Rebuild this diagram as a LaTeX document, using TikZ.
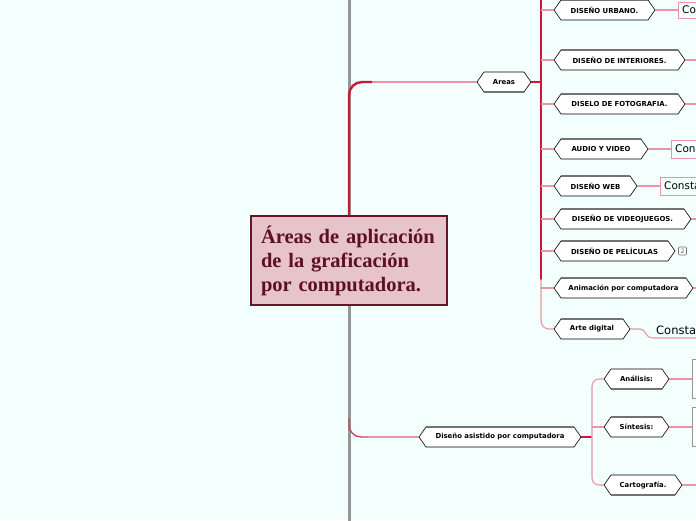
\documentclass[tikz,border=0pt]{standalone}
\usepackage{fontspec}
\setmainfont{Liberation Serif}
\newfontfamily\verd{DejaVu Sans}
\usetikzlibrary{calc}
\definecolor{bgc}{RGB}{242,255,252}
\definecolor{trunk}{RGB}{150,150,150}
\definecolor{redl}{RGB}{200,25,55}
\definecolor{pinkl}{RGB}{232,150,165}
\definecolor{cfill}{RGB}{230,196,201}
\definecolor{cdraw}{RGB}{105,20,38}
\definecolor{ctext}{RGB}{95,15,35}
\definecolor{edgegray}{RGB}{115,115,115}
\tikzset{
  hexlbl/.style={inner sep=0pt,minimum height=20pt,font=\verd\bfseries\fontsize{6.9}{8}\selectfont,text=black},
  hexpoly/.style={fill=white,draw=black,line width=0.6pt},
  hexedge/.style={draw=edgegray,line width=1.8pt},
  conn/.style={draw=pinkl,line width=1.1pt},
  redconn/.style={draw=redl,line width=1.8pt},
  txtbox/.style={draw=pinkl,line width=0.9pt,fill=bgc},
  boxtext/.style={anchor=west,inner sep=0pt,font=\verd\fontsize{10.5}{12}\selectfont,text=black},
}
\newcommand\hexnode[6]{%
  \filldraw[hexpoly] (#2,#4) -- (#2+7,#4-10) -- (#3-7,#4-10) -- (#3,#4) -- (#3-7,#4+10) -- (#2+7,#4+10) -- cycle;
  \draw[hexedge] (#2+7,#4#6) -- (#3-7,#4#6);
  \node[hexlbl,minimum width=#3-#2] (#1) at ({(#2+#3)/2},#4) {#5};
}
\begin{document}
\begin{tikzpicture}[x=1pt,y=-1pt]
\useasboundingbox (0,0) rectangle (696,520);
\clip (0,0) rectangle (696,520);
\fill[bgc] (0,0) rectangle (696,520);

% trunk
\coordinate (ttop) at (349,-2);
\coordinate (tbot) at (349,522);
\draw[draw=trunk,line width=3pt] (ttop) -- (tbot);

% central node
\node[draw=cdraw,fill=cfill,line width=1.2pt,minimum width=196pt,minimum height=89pt,
      text width=176pt,align=left,inner xsep=10pt,text=ctext,
      font=\bfseries\fontsize{20.5}{24}\selectfont] (root) at (349,260.5)
      {Áreas de aplicación\\de la graficación\\por computadora.};

% Areas branch
\hexnode{areas}{477}{531}{82}{Areas}{+10}
\coordinate (ac) at (372,82);
\draw[draw=redl,line width=2.4pt,rounded corners=13pt] (root.north) -- (349,82) -- (ac);
\draw[conn] (ac) -- (areas.west);

% children of Areas
\hexnode{urb}{554}{655}{10}{DISEÑO URBANO.}{-10}
\hexnode{intr}{554}{685}{60}{DISEÑO DE INTERIORES.}{-10}
\hexnode{foto}{554}{685}{104}{DISELO DE FOTOGRAFIA.}{-10}
\hexnode{audio}{554}{648}{149}{AUDIO Y VIDEO}{-10}
\hexnode{web}{554}{637}{186}{DISEÑO WEB}{-10}
\hexnode{vid}{554}{691}{219}{DISEÑO DE VIDEOJUEGOS.}{-10}
\hexnode{pel}{554}{675}{251}{DISEÑO DE PELÍCULAS}{-10}
\hexnode{anim}{554}{693}{288}{Animación por computadora}{-10}
\hexnode{arte}{554}{630}{329}{Arte digital}{-10}

\coordinate (bar) at (541,82);
\draw[redconn] (areas.east) -- (bar);
\draw[draw=redl,line width=1.5pt] (541,-2) -- (541,280);
\draw[conn,rounded corners=8pt] (541,279) -- (541,329) -- (arte.west);
\foreach \n/\y in {urb/10,intr/60,foto/104,audio/149,web/186,vid/219,pel/251,anim/288}{
  \draw[conn] (541,\y) -- (\n.west);
}

% text boxes / continuations
\draw[txtbox] (678,2) rectangle (740,18);
\node[boxtext] (tUrb) at (682,10) {Co};
\draw[conn] (urb.east) -- (678,10);

\coordinate (eIntr) at (700,60);
\draw[conn] (intr.east) -- (eIntr);
\coordinate (eFoto) at (700,104);
\draw[conn] (foto.east) -- (eFoto);

\draw[txtbox] (671,140) rectangle (740,158);
\node[boxtext] (tAudio) at (675,149) {Cons};
\draw[conn] (audio.east) -- (671,149);

\draw[txtbox] (660,177) rectangle (740,195);
\node[boxtext] (tWeb) at (664,186) {Consta};
\draw[conn] (web.east) -- (660,186);

\coordinate (eVid) at (700,219);
\draw[conn] (vid.east) -- (eVid);
\coordinate (eAnim) at (700,288);
\draw[conn] (anim.east) -- (eAnim);

\node[draw=edgegray,fill=white,rounded corners=1pt,line width=0.6pt,inner sep=0.6pt,
      minimum size=8pt,font=\verd\fontsize{6}{6}\selectfont,text=edgegray!80!black] (badge) at (682.5,251) {2};

\coordinate (eArte) at (700,338);
\draw[conn] (arte.east) -- (640,329) .. controls (646,329) and (645,338) .. (653,338) -- (eArte);
\node[anchor=base west,inner sep=0pt,font=\verd\fontsize{11.5}{14}\selectfont] (tArte) at (656,334) {Consta de};

% Diseño asistido branch
\hexnode{cad}{419}{581}{437}{Diseño asistido por computadora}{-10}
\draw[draw=redl!70!pinkl,line width=1.3pt,rounded corners=12pt] (349,418) -- (349,437) -- (368,437);
\draw[conn] (368,437) -- (cad.west);

\hexnode{anal}{604}{669}{379}{Análisis:}{+10}
\hexnode{sint}{604}{669}{427}{Síntesis:}{-10}
\hexnode{carto}{604}{682}{485}{Cartografía.}{+10}

\draw[redconn] (cad.east) -- (592,437);
\draw[conn,rounded corners=7pt] (anal.west) -- (592,379) -- (592,485) -- (carto.west);
\draw[conn] (592,427) -- (sint.west);

\draw[draw=trunk,line width=1pt,fill=white] (692,359) rectangle (740,398);
\draw[draw=trunk,line width=1pt,fill=white] (692,407) rectangle (740,446);
\draw[conn] (anal.east) -- (692,379);
\draw[conn] (sint.east) -- (692,427);
\coordinate (eCarto) at (700,485);
\draw[conn] (carto.east) -- (eCarto);
\end{tikzpicture}
\end{document}
